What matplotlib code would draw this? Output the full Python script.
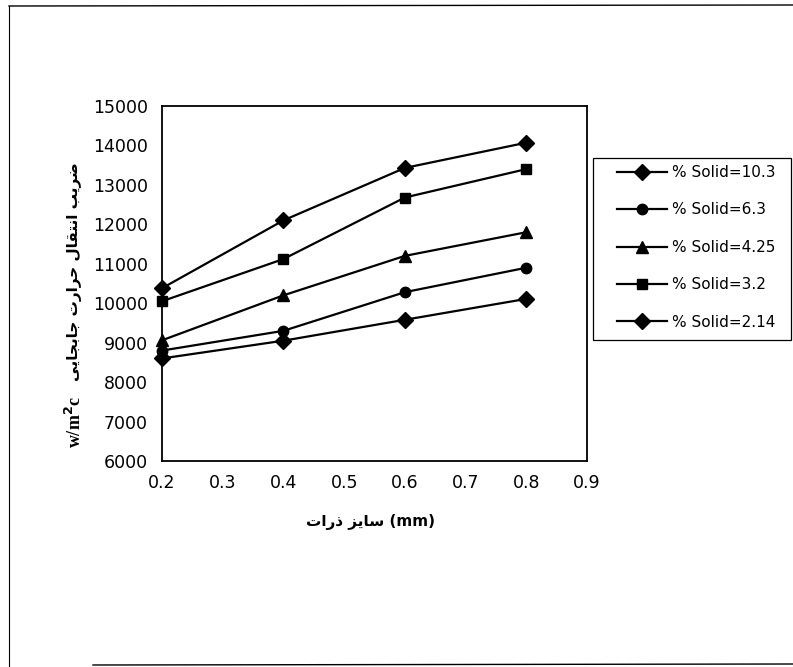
import matplotlib
matplotlib.use("Agg")
import matplotlib.pyplot as plt
from matplotlib.lines import Line2D
from matplotlib.patches import Rectangle

# data
sizes = [0.2, 0.4, 0.6, 0.8]
labels = ["% Solid=10.3", "% Solid=6.3", "% Solid=4.25", "% Solid=3.2", "% Solid=2.14"]
solid_10_3 = [10380, 12100, 13430, 14070]
solid_6_3 = [8800, 9300, 10280, 10900]
solid_4_25 = [9060, 10200, 11200, 11800]
solid_3_2 = [10050, 11120, 12680, 13400]
solid_2_14 = [8600, 9050, 9580, 10110]
series = [solid_10_3, solid_6_3, solid_4_25, solid_3_2, solid_2_14]
markers = ["D", "o", "^", "s", "D"]
msizes = [8.5, 7.5, 8.5, 6.5, 8.5]

xticks = [0.2, 0.3, 0.4, 0.5, 0.6, 0.7, 0.8, 0.9]
yticks = list(range(6000, 15001, 1000))

# persian text, shaped by hand (matplotlib has no arabic shaping)
# forms: isolated, final, initial, medial
FORMS = {
    "ا": ("\uFE8D", "\uFE8E", None, None),
    "ب": ("\uFE8F", "\uFE90", "\uFE91", "\uFE92"),
    "ت": ("\uFE95", "\uFE96", "\uFE97", "\uFE98"),
    "ج": ("\uFE9D", "\uFE9E", "\uFE9F", "\uFEA0"),
    "ح": ("\uFEA1", "\uFEA2", "\uFEA3", "\uFEA4"),
    "ذ": ("\uFEAB", "\uFEAC", None, None),
    "ر": ("\uFEAD", "\uFEAE", None, None),
    "ز": ("\uFEAF", "\uFEB0", None, None),
    "س": ("\uFEB1", "\uFEB2", "\uFEB3", "\uFEB4"),
    "ض": ("\uFEBD", "\uFEBE", "\uFEBF", "\uFEC0"),
    "ق": ("\uFED5", "\uFED6", "\uFED7", "\uFED8"),
    "ل": ("\uFEDD", "\uFEDE", "\uFEDF", "\uFEE0"),
    "ن": ("\uFEE5", "\uFEE6", "\uFEE7", "\uFEE8"),
    "ی": ("\uFBFC", "\uFBFD", "\uFBFE", "\uFBFF"),
}


def shape(word):
    out = []
    for i, ch in enumerate(word):
        f = FORMS[ch]
        jp = i > 0 and FORMS[word[i - 1]][2] is not None
        jn = i + 1 < len(word) and f[2] is not None
        if jp and jn:
            g = f[3]
        elif jp:
            g = f[1]
        elif jn:
            g = f[2]
        else:
            g = f[0]
        out.append(g)
    return "".join(reversed(out))


def rtl(text):
    return " ".join(shape(w) for w in reversed(text.split()))


ylabel_fa = "ضریب انتقال حرارت جابجایی"
xlabel_fa = "سایز ذرات"

W, H = 793, 667
fig = plt.figure(figsize=(W / 100, H / 100), dpi=100)
ax = fig.add_axes([162 / W, 1 - 461 / H, (587 - 162) / W, (461 - 106) / H])

for vals, m, ms, lab in zip(series, markers, msizes, labels):
    ax.plot(sizes, vals, color="black", lw=1.6, marker=m, markersize=ms,
            markerfacecolor="black", markeredgecolor="black", label=lab, clip_on=False)

ax.set_xlim(0.2, 0.9)
ax.set_ylim(6000, 15000)
ax.set_xticks(xticks)
ax.set_yticks(yticks)
ax.set_xticklabels([f"{v:.1f}" for v in xticks])
ax.set_yticklabels([str(v) for v in yticks])
ax.tick_params(axis="y", length=0, labelsize=12.5, pad=10)
ax.tick_params(axis="x", length=0, labelsize=12.5, pad=9)
for lbl in ax.get_xticklabels() + ax.get_yticklabels():
    lbl.set_fontfamily("DejaVu Sans")
for sp in ax.spines.values():
    sp.set_linewidth(1.3)
    sp.set_color("black")

# axis labels
fig.text(370 / W, 1 - 522 / H, rtl(xlabel_fa) + " (mm)", ha="center", va="center",
         fontsize=11, fontweight="bold", family="DejaVu Sans")
fig.text(75 / W, 1 - 272 / H, rtl(ylabel_fa), rotation=90, ha="center", va="center",
         fontsize=11, fontweight="bold", family="DejaVu Sans")
fig.text(75 / W, 1 - 422 / H, "w/m$^{\\mathbf{2}}$c", rotation=90, ha="center", va="center",
         fontsize=13, fontweight="bold", family="Liberation Serif")

# legend, box drawn separately
leg = fig.legend(loc="upper left", bbox_to_anchor=(617 / W, 1 - 165 / H), frameon=False,
                 borderpad=0, borderaxespad=0, handlelength=3.3, handletextpad=0.33,
                 labelspacing=1.47, prop={"family": "DejaVu Sans", "size": 11})
fig.add_artist(Rectangle((593 / W, 1 - 340 / H), (791 - 593) / W, (340 - 158) / H,
                         transform=fig.transFigure, fill=False, edgecolor="black", lw=0.9))

# page border from the scan
fig.add_artist(Line2D([9 / W, 9 / W], [1 - 6 / H, 0], transform=fig.transFigure, color="black", lw=0.8))
fig.add_artist(Line2D([9 / W, 1], [1 - 6 / H, 1 - 5 / H], transform=fig.transFigure, color="black", lw=1.0))
fig.add_artist(Line2D([93 / W, 1], [1 - 665 / H, 1 - 664 / H], transform=fig.transFigure, color="black", lw=1.0))

fig.savefig("out.png", dpi=100)
